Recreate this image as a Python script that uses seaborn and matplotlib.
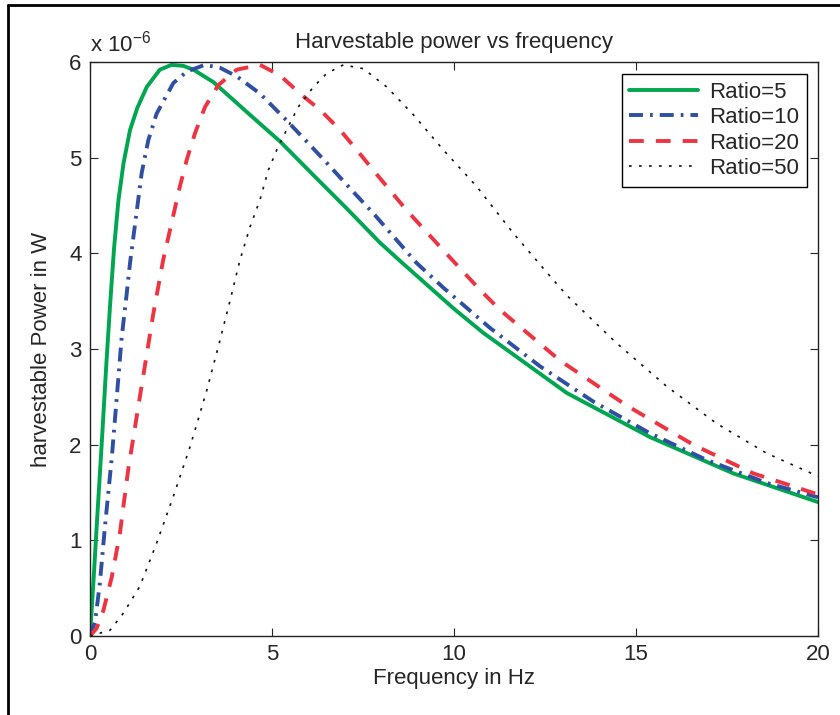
import matplotlib
matplotlib.use("Agg")
import matplotlib.pyplot as plt
from matplotlib.lines import Line2D
import seaborn as sns

# values, power in units of 1e-6 W
freq_r5 = [0, 0.1, 0.2, 0.32, 0.45, 0.55, 0.66, 0.78, 0.92, 1.1, 1.3, 1.56, 1.92, 2.24, 2.56, 2.84,
           3.39, 4.3, 5.22, 6.13, 7.05, 7.97, 8.52, 10.0, 10.8, 13.1, 15.38, 17.67, 20]
pow_r5 = [0, 0.6, 1.25, 2.0, 2.85, 3.45, 4.05, 4.55, 4.94, 5.29, 5.52, 5.74, 5.92, 5.97, 5.96, 5.92,
          5.79, 5.48, 5.17, 4.82, 4.47, 4.11, 3.92, 3.42, 3.17, 2.54, 2.08, 1.70, 1.40]

freq_r10 = [0, 0.14, 0.27, 0.41, 0.6, 0.73, 0.87, 1.0, 1.1, 1.42, 1.6, 1.83, 2.29, 2.66, 3.15, 3.57,
            4.03, 4.67, 5.4, 6.0, 6.59, 7.19, 7.78, 8.97, 9.71, 10.99, 12.36, 13.83, 15.38, 16.94,
            18.59, 20]
pow_r10 = [0, 0.15, 0.55, 1.14, 1.87, 2.47, 3.12, 3.55, 3.90, 4.84, 5.18, 5.46, 5.78, 5.90, 5.97, 5.94,
           5.85, 5.67, 5.39, 5.15, 4.91, 4.66, 4.42, 3.90, 3.64, 3.22, 2.82, 2.45, 2.12, 1.84,
           1.60, 1.45]

freq_r20 = [0, 0.18, 0.37, 0.6, 0.82, 1.05, 1.37, 1.74, 2.01, 2.47, 2.66, 2.88, 3.16, 3.53, 4.03,
            4.67, 5.22, 5.77, 6.32, 6.87, 7.33, 7.78, 8.7, 9.71, 10.71, 11.26, 12.91, 14.74, 16.57,
            18.22, 20]
pow_r20 = [0, 0.08, 0.27, 0.62, 1.07, 1.74, 2.50, 3.37, 3.93, 4.70, 4.98, 5.25, 5.53, 5.76, 5.92,
           5.97, 5.86, 5.67, 5.50, 5.29, 5.08, 4.87, 4.45, 4.03, 3.62, 3.41, 2.88, 2.41, 2.00,
           1.70, 1.48]

freq_r50 = [0, 0.55, 0.92, 1.37, 1.83, 2.29, 2.75, 3.21, 3.57, 3.85, 4.12, 4.4, 4.67, 4.9, 5.13,
            5.4, 5.72, 6.14, 6.5, 6.96, 7.51, 8.15, 8.88, 9.71, 10.62, 11.63, 12.55, 13.1, 14.47,
            15.84, 17.22, 18.59, 20]
pow_r50 = [0, 0.06, 0.24, 0.52, 0.97, 1.46, 1.98, 2.57, 3.09, 3.51, 3.93, 4.28, 4.56, 4.87, 5.08,
           5.29, 5.53, 5.74, 5.88, 5.97, 5.93, 5.74, 5.45, 5.08, 4.70, 4.21, 3.80, 3.56, 3.06,
           2.61, 2.22, 1.91, 1.67]

labels = ["Ratio=5", "Ratio=10", "Ratio=20", "Ratio=50"]
xticks = [0, 5, 10, 15, 20]
yticks = [0, 1, 2, 3, 4, 5, 6]

sns.set_style("ticks")
plt.rcParams["font.family"] = ["Liberation Sans", "DejaVu Sans"]
plt.rcParams["mathtext.fontset"] = "custom"
plt.rcParams["mathtext.rm"] = "Liberation Sans"

fig = plt.figure(figsize=(8.4, 7.15), dpi=100)
ax = fig.add_axes([90 / 840, 1 - 636 / 715, 728 / 840, 574 / 715])

series = [
    (freq_r5, pow_r5, "#00a650", 2.8, None),
    (freq_r10, pow_r10, "#2f4fa2", 2.8, (3.6, 1.8, 0.7, 1.8)),
    (freq_r20, pow_r20, "#ee3441", 2.8, (3.8, 3.1)),
    (freq_r50, pow_r50, "#111111", 1.2, (1.6, 4.4)),
]
handles = []
for (fx, py, col, lw, dash), lab in zip(series, labels):
    sns.lineplot(x=fx, y=py, color=col, linewidth=lw, ax=ax, legend=False)
    line = ax.lines[-1]
    if dash is not None:
        line.set_dashes(dash)
    handles.append(line)

ax.set_xlim(0, 20)
ax.set_ylim(0, 6)
ax.set_xticks(xticks)
ax.set_yticks(yticks)
ax.tick_params(direction="in", top=True, right=True, length=6, width=0.8, labelsize=16, pad=6)
for sp in ax.spines.values():
    sp.set_linewidth(1.0)
    sp.set_color("#222222")

ax.set_xlabel("Frequency in Hz", fontsize=16, labelpad=2)
ax.set_ylabel("harvestable Power in W", fontsize=16, labelpad=12)
ax.set_title("Harvestable power vs frequency", fontsize=16, pad=10)
ax.text(0, 1.01, r"x 10$^{-6}$", transform=ax.transAxes, fontsize=16, ha="left", va="bottom")

leg = ax.legend(handles, labels, loc="upper right", bbox_to_anchor=(0.985, 0.979),
                borderaxespad=0, fancybox=False, edgecolor="black", fontsize=16,
                handlelength=3.1, handletextpad=0.5, framealpha=1, borderpad=0.35,
                labelspacing=0.2)
leg.get_frame().set_linewidth(1.0)

# figure frame (top and left edges visible in the reference)
fig.add_artist(Line2D([8 / 840, 8 / 840], [0, 1 - 5 / 715], transform=fig.transFigure, color="black", lw=2))
fig.add_artist(Line2D([8 / 840, 1], [1 - 5 / 715, 1 - 5 / 715], transform=fig.transFigure, color="black", lw=2))

fig.savefig("out.png", dpi=100)
